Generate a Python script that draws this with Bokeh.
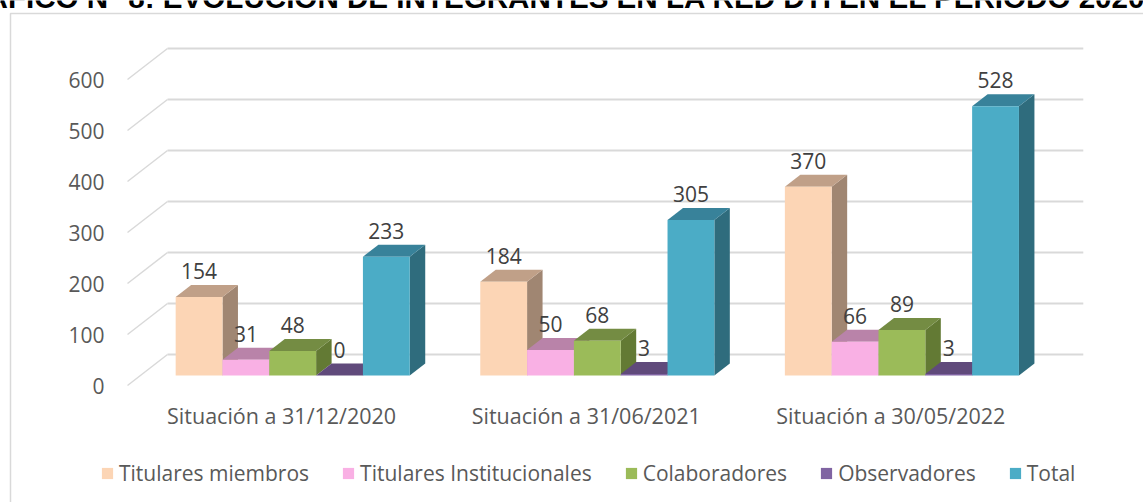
from bokeh.plotting import figure
from bokeh.models import (Range1d, LinearAxis, FixedTicker, Legend, LegendItem, Label)
from bokeh.core.properties import value
from bokeh.embed import file_html
from bokeh.resources import INLINE

# ---- data ----
categories = ["Situación a 31/12/2020", "Situación a 31/06/2021", "Situación a 30/05/2022"]
series_names = ["Titulares miembros", "Titulares Institucionales", "Colaboradores", "Observadores", "Total"]
titulares_miembros = [154, 184, 370]
titulares_institucionales = [31, 50, 66]
colaboradores = [48, 68, 89]
observadores = [0, 3, 3]
total = [233, 305, 528]
y_ticks = [0, 100, 200, 300, 400, 500, 600]
title_text = "GRÁFICO N° 8: EVOLUCIÓN DE INTEGRANTES EN LA RED DTI EN EL PERIODO 2020-2022"

# ---- colours ----
front_colors = ["#FCD5B5", "#F9B0E4", "#9BBB59", "#8064A2", "#4BACC6"]
top_colors = ["#C0A088", "#B983A9", "#748C43", "#604A7B", "#38829A"]
side_colors = ["#A08672", "#9C6E8F", "#637A34", "#513E68", "#2F6C7D"]

# ---- page geometry ----
W, H = 1143, 502
SLOT = 304.6          # px per category
PX_X0 = 127           # px of front-left axis corner
PX_Y0 = 385           # px of value 0 on the front plane
PX_PER_UNIT = 0.51    # px per value unit
DEPTH_X, DEPTH_Y = 40, 31  # px extent of the floor depth

sx = lambda px: (px) / SLOT      # px length -> x units
sy = lambda px: (px) / PX_PER_UNIT  # px length -> value units

x_range = Range1d(-PX_X0 / SLOT, (W - PX_X0) / SLOT)
y_range = Range1d(-(H - PX_Y0) / PX_PER_UNIT, PX_Y0 / PX_PER_UNIT)

p = figure(width=W, height=H, x_range=x_range, y_range=y_range, output_backend="svg",
           toolbar_location=None, min_border=0, outline_line_color=None,
           x_axis_type=None, y_axis_type=None, margin=0)
p.grid.visible = False

# ---- chart border ----
p.line([sx(10 - PX_X0)] * 2 + [sx(W - PX_X0)],
       [sy(PX_Y0 - H), sy(PX_Y0 - 13), sy(PX_Y0 - 13)],
       line_color="#D9D9D9", line_width=1.5)

# ---- gridlines: walls and floor side ----
dx, dy = sx(DEPTH_X), sy(DEPTH_Y)
n = len(categories)
p.multi_line([[0, dx] for _ in y_ticks], [[t, t + dy] for t in y_ticks],
             line_color="#D9D9D9", line_width=1.5)
p.multi_line([[dx, n + dx + sx(2)] for _ in y_ticks], [[t + dy, t + dy] for t in y_ticks],
             line_color="#D9D9D9", line_width=2)

# ---- bars ----
BAR_W = 0.1537
F1, F2 = 10 / DEPTH_Y, 22 / DEPTH_Y   # front & back planes of bars as floor-depth fractions
all_series = [titulares_miembros, titulares_institucionales, colaboradores, observadores, total]
legend_items = []
lx, ly, lt = [], [], []
y0 = F1 * dy
d_x, d_y = (F2 - F1) * dx, (F2 - F1) * dy
for j, vals in enumerate(all_series):
    x0s = [i + 0.5 - BAR_W * len(all_series) / 2 + j * BAR_W + F1 * dx for i in range(n)]
    x1s = [x + BAR_W for x in x0s]
    p.patches([[x1, x1 + d_x, x1 + d_x, x1] for x1 in x1s],
              [[y0, y0 + d_y, y0 + d_y + v, y0 + v] for v in vals],
              fill_color=side_colors[j], line_color=None)
    p.patches([[x0, x1, x1 + d_x, x0 + d_x] for x0, x1 in zip(x0s, x1s)],
              [[y0 + v, y0 + v, y0 + d_y + v, y0 + d_y + v] for v in vals],
              fill_color=top_colors[j], line_color=None)
    r = p.quad(left=x0s, right=x1s, bottom=[y0] * n, top=[y0 + v for v in vals],
               fill_color=front_colors[j], line_color=None)
    legend_items.append(LegendItem(label=series_names[j], renderers=[r]))
    lx += [(a + b) / 2 for a, b in zip(x0s, x1s)]
    ly += [y0 + d_y + v for v in vals]
    lt += [str(v) for v in vals]

p.text(x=lx, y=ly, text=lt, text_font=value("Open Sans"), text_font_size="21px",
       text_color="#404040", text_align="center", text_baseline="middle", y_offset=-14)

# ---- axes ----
yax = LinearAxis(fixed_location=sx(115 - PX_X0), ticker=FixedTicker(ticks=y_ticks))
yax.axis_line_color = None
yax.major_tick_line_color = None
yax.minor_tick_line_color = None
yax.major_label_standoff = 5
yax.major_label_text_font = "Open Sans"
yax.major_label_text_font_size = "21px"
yax.major_label_text_color = "#595959"
p.add_layout(yax, "left")

xax = LinearAxis(fixed_location=sy(PX_Y0 - 392),
                 ticker=FixedTicker(ticks=[i + 0.506 for i in range(n)]),
                 major_label_overrides={i + 0.506: c for i, c in enumerate(categories)})
xax.axis_line_color = None
xax.major_tick_line_color = None
xax.minor_tick_line_color = None
xax.major_label_standoff = 2
xax.major_label_text_font = "Open Sans"
xax.major_label_text_font_size = "21.5px"
xax.major_label_text_color = "#595959"
p.add_layout(xax, "below")

# ---- legend ----
legend = Legend(items=legend_items, orientation="horizontal", location=(100, 15),
                background_fill_alpha=0, border_line_color=None, margin=0, padding=0,
                glyph_width=14, glyph_height=14, label_standoff=5, spacing=32,
                label_text_font="Open Sans", label_text_font_size="21px", label_text_color="#595959")
p.add_layout(legend)

# ---- title ----
p.add_layout(Label(x=sx(581.5 - PX_X0), y=sy(PX_Y0 + 3.5), text=title_text,
                   text_font="Liberation Sans", text_font_style="bold", text_font_size="29.6px",
                   text_color="#000000", text_align="center", text_baseline="alphabetic"))

open("out.html", "w").write(file_html(p, INLINE))
